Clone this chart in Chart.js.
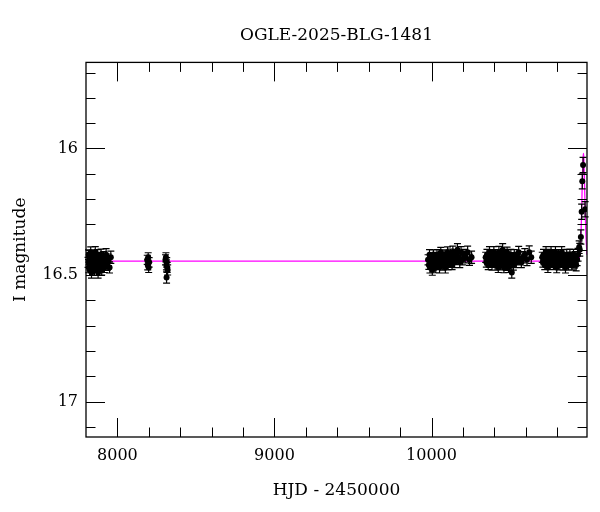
<!DOCTYPE html>
<html>
<head>
<meta charset="utf-8">
<script src="https://cdn.jsdelivr.net/npm/chart.js@4"></script>
<style>
  html, body { margin:0; padding:0; background:#fff; }
  canvas { display:block; }
</style>
</head>
<body>
<canvas id="lc" width="600" height="512"></canvas>
<script>
// [HJD-2450000, I mag, error]
const season2017 = [
  [7813,16.45,.02],[7816,16.42,.019],[7818,16.47,.021],[7820,16.44,.02],[7823,16.48,.022],[7825,16.43,.019],
  [7828,16.46,.02],[7830,16.41,.021],[7833,16.45,.02],[7835,16.49,.022],[7838,16.43,.019],[7840,16.46,.02],
  [7843,16.44,.021],[7846,16.47,.02],[7848,16.42,.019],[7851,16.45,.02],[7854,16.48,.021],[7856,16.44,.02],
  [7859,16.41,.022],[7862,16.46,.02],[7865,16.43,.019],[7868,16.47,.02],[7871,16.45,.021],[7874,16.42,.02],
  [7877,16.49,.022],[7880,16.44,.02],[7883,16.46,.019],[7886,16.43,.02],[7889,16.47,.021],[7892,16.45,.02],
  [7896,16.42,.022],[7900,16.48,.02],[7904,16.44,.021],[7908,16.46,.02],[7912,16.43,.022],[7917,16.47,.02],
  [7922,16.45,.021],[7928,16.42,.024],[7935,16.46,.022],[7942,16.44,.023],[7950,16.47,.022],[7958,16.43,.024]
];
const season2018a = [
  [8190,16.44,.018],[8193,16.46,.02],[8196,16.43,.018],[8199,16.47,.02],[8202,16.45,.019]
];
const season2018b = [
  [8306,16.44,.02],[8309,16.43,.018],[8312,16.46,.02],[8313,16.51,.022],[8314,16.45,.019],[8317,16.47,.02],[8320,16.48,.02]
];
const season2023 = [
  [9978,16.44,.02],[9983,16.46,.018],[9987,16.42,.02],[9990,16.47,.022],[9994,16.44,.019],[9998,16.45,.02],
  [10002,16.43,.018],[10005,16.48,.021],[10009,16.44,.02],[10012,16.42,.019],[10016,16.46,.02],[10020,16.45,.018],
  [10024,16.43,.02],[10027,16.47,.021],[10031,16.44,.019],[10035,16.42,.02],[10039,16.46,.018],[10043,16.45,.02],
  [10047,16.43,.019],[10051,16.47,.022],[10055,16.44,.02],[10059,16.41,.019],[10063,16.45,.02],[10067,16.43,.018],
  [10071,16.46,.021],[10075,16.44,.02],[10080,16.42,.019],[10084,16.45,.02],[10088,16.47,.022],[10093,16.43,.019],
  [10097,16.44,.02],[10102,16.41,.021],[10106,16.46,.02],[10111,16.43,.019],[10116,16.45,.02],[10121,16.42,.022],
  [10126,16.44,.02],[10131,16.46,.019],[10136,16.41,.024],[10141,16.43,.02],[10147,16.45,.021],[10152,16.42,.02],
  [10158,16.44,.019],[10165,16.40,.024],[10172,16.43,.02],[10180,16.45,.021],[10188,16.41,.022],[10197,16.44,.02],
  [10207,16.42,.021],[10218,16.43,.022],[10230,16.41,.024],[10242,16.44,.022],[10255,16.43,.024]
];
const season2024 = [
  [10345,16.43,.02],[10349,16.45,.019],[10353,16.42,.021],[10357,16.44,.02],[10361,16.46,.019],[10365,16.43,.02],
  [10369,16.41,.022],[10373,16.45,.02],[10377,16.44,.019],[10381,16.42,.02],[10385,16.46,.021],[10389,16.43,.02],
  [10393,16.45,.019],[10397,16.41,.022],[10401,16.44,.02],[10405,16.46,.021],[10409,16.42,.02],[10413,16.44,.019],
  [10417,16.45,.02],[10421,16.43,.021],[10425,16.47,.02],[10429,16.41,.023],[10433,16.44,.02],[10437,16.42,.019],
  [10441,16.46,.02],[10445,16.43,.021],[10449,16.45,.02],[10453,16.40,.024],[10457,16.44,.02],[10461,16.47,.021],
  [10465,16.42,.02],[10469,16.45,.019],[10473,16.43,.02],[10477,16.46,.022],[10481,16.41,.02],[10486,16.44,.021],
  [10490,16.47,.02],[10495,16.43,.019],[10500,16.45,.02],[10505,16.42,.021],[10511,16.49,.022],[10516,16.44,.02],
  [10521,16.46,.021],[10527,16.42,.02],[10533,16.44,.019],[10540,16.45,.021],[10547,16.43,.02],[10555,16.41,.023],
  [10563,16.44,.02],[10572,16.45,.021],[10582,16.43,.022],[10594,16.42,.024],[10608,16.44,.023],[10622,16.41,.025],
  [10635,16.43,.024]
];
const season2025 = [
  [10705,16.43,.02],[10709,16.45,.019],[10713,16.42,.021],[10717,16.44,.02],[10721,16.46,.019],[10725,16.43,.02],
  [10729,16.41,.022],[10733,16.45,.02],[10737,16.44,.019],[10741,16.47,.02],[10745,16.42,.021],[10749,16.44,.02],
  [10753,16.46,.019],[10757,16.43,.02],[10761,16.41,.022],[10765,16.45,.02],[10769,16.44,.021],[10773,16.42,.02],
  [10777,16.46,.019],[10781,16.43,.02],[10785,16.45,.021],[10789,16.41,.022],[10793,16.44,.02],[10797,16.47,.021],
  [10801,16.43,.02],[10805,16.45,.019],[10809,16.42,.02],[10813,16.44,.021],[10817,16.46,.02],[10821,16.43,.019],
  [10825,16.45,.02],[10829,16.41,.022],[10833,16.44,.02],[10837,16.46,.021],[10841,16.42,.02],[10845,16.45,.019],
  [10849,16.43,.02],[10853,16.47,.022],[10857,16.44,.02],[10861,16.42,.021],[10865,16.45,.02],[10869,16.43,.019],
  [10873,16.46,.021],[10877,16.44,.02],[10881,16.42,.022],[10885,16.45,.02],[10889,16.43,.021],[10894,16.46,.02],
  [10899,16.44,.022],[10904,16.42,.021],[10909,16.45,.023],[10915,16.43,.022],[10921,16.46,.024],[10927,16.44,.023],
  [10933,16.42,.025]
];
const eventPoints = [
  [10940,16.39,.025],[10944,16.40,.025],[10951,16.35,.028],[10956,16.25,.03],[10960,16.13,.03],
  [10965,16.065,.03],[10978,16.24,.03]
];
// model curve
const modelT   = [7800, 10930, 10940, 10945, 10951, 10956, 10960, 10964, 10967, 10970, 10974, 10978, 10983, 10990];
const modelMag = [16.445, 16.445, 16.435, 16.42, 16.36, 16.25, 16.13, 16.05, 16.02, 16.04, 16.13, 16.24, 16.34, 16.42];

const xMajorTicks = [8000, 9000, 10000];
const xMinorTicks = [8200,8400,8600,8800,9200,9400,9600,9800,10200,10400,10600,10800];
const yMajorTicks = [16, 16.5, 17];
const yMinorTicks = [15.7,15.8,15.9,16.1,16.2,16.3,16.4,16.6,16.7,16.8,16.9,17.1];

const allPts = [season2017, season2018a, season2018b, season2023, season2024, season2025, eventPoints]
  .flat().map(p => ({x:p[0], y:p[1], e:p[2]}));
const model = modelT.map((t,i) => ({x:t, y:modelMag[i]}));

const FONT = "'DejaVu Serif', serif";

const errorBars = {
  id:'errorBars',
  beforeDatasetDraw(chart, args){
    if(args.index !== 0) return;
    const {ctx, scales:{x, y}} = chart;
    ctx.save();
    ctx.strokeStyle = '#000';
    ctx.lineWidth = 1.2;
    ctx.beginPath();
    allPts.forEach(p=>{
      const px = x.getPixelForValue(p.x);
      const y1 = y.getPixelForValue(p.y - p.e), y2 = y.getPixelForValue(p.y + p.e);
      ctx.moveTo(px, y1); ctx.lineTo(px, y2);
      ctx.moveTo(px-3.5, y1); ctx.lineTo(px+3.5, y1);
      ctx.moveTo(px-3.5, y2); ctx.lineTo(px+3.5, y2);
    });
    ctx.stroke();
    ctx.restore();
  }
};

const frameTicks = {
  id:'frameTicks',
  afterDatasetsDraw(chart){
    const {ctx, chartArea:a, scales:{x, y}} = chart;
    ctx.save();
    ctx.strokeStyle = '#000';
    ctx.lineWidth = 1;
    ctx.beginPath();
    const xt = (v, len)=>{
      const px = Math.round(x.getPixelForValue(v)) + 0.5;
      ctx.moveTo(px, a.bottom); ctx.lineTo(px, a.bottom - len);
      ctx.moveTo(px, a.top); ctx.lineTo(px, a.top + len);
    };
    const yt = (v, len)=>{
      const py = Math.round(y.getPixelForValue(v)) + 0.5;
      ctx.moveTo(a.left, py); ctx.lineTo(a.left + len, py);
      ctx.moveTo(a.right, py); ctx.lineTo(a.right - len, py);
    };
    xMajorTicks.forEach(v=>xt(v, 19));
    xMinorTicks.forEach(v=>xt(v, 9.5));
    yMajorTicks.forEach(v=>yt(v, 19));
    yMinorTicks.forEach(v=>yt(v, 9.5));
    ctx.stroke();
    ctx.lineWidth = 1.3;
    ctx.strokeRect(a.left, a.top, a.right - a.left, a.bottom - a.top);
    ctx.restore();
  }
};

new Chart(document.getElementById('lc'), {
  type:'scatter',
  data:{
    datasets:[
      { label:'data', data:allPts, order:0, showLine:false,
        pointRadius:3, pointBackgroundColor:'#000', pointBorderWidth:0 },
      { type:'line', label:'model', data:model, order:1, borderColor:'#ff00ff', borderWidth:1.3,
        pointRadius:0, cubicInterpolationMode:'monotone', fill:false }
    ]
  },
  options:{
    responsive:false,
    animation:false,
    layout:{ padding:{ left:0, right:13, top:0, bottom:0 } },
    plugins:{
      legend:{ display:false },
      tooltip:{ enabled:false },
      title:{ display:true, fullSize:false, text:'OGLE-2025-BLG-1481', color:'#000',
        font:{ family:FONT, size:17, weight:'normal', lineHeight:1.2 },
        padding:{ top:25, bottom:17 } }
    },
    scales:{
      x:{
        type:'linear', min:7800, max:10990,
        afterFit(s){ s.height = 75; },
        afterBuildTicks(s){ s.ticks = xMajorTicks.map(v=>({value:v})); },
        grid:{ display:false, drawTicks:false }, border:{ display:false },
        ticks:{ color:'#000', padding:9, maxRotation:0, font:{ family:FONT, size:16 },
          callback:v=>String(v) },
        title:{ display:true, text:'HJD - 2450000', color:'#000',
          font:{ family:FONT, size:17, lineHeight:1.2 }, padding:{ top:0, bottom:11 } }
      },
      y:{
        type:'linear', min:15.66, max:17.14, reverse:true,
        afterFit(s){ s.width = 86; },
        afterBuildTicks(s){ s.ticks = yMajorTicks.map(v=>({value:v})); },
        grid:{ display:false, drawTicks:false }, border:{ display:false },
        ticks:{ color:'#000', padding:8, font:{ family:FONT, size:16 },
          callback:v=>String(v) },
        title:{ display:true, text:'I magnitude', color:'#000',
          font:{ family:FONT, size:17, lineHeight:1.2 }, padding:{ top:10, bottom:0 } }
      }
    }
  },
  plugins:[errorBars, frameTicks]
});
</script>
</body>
</html>
